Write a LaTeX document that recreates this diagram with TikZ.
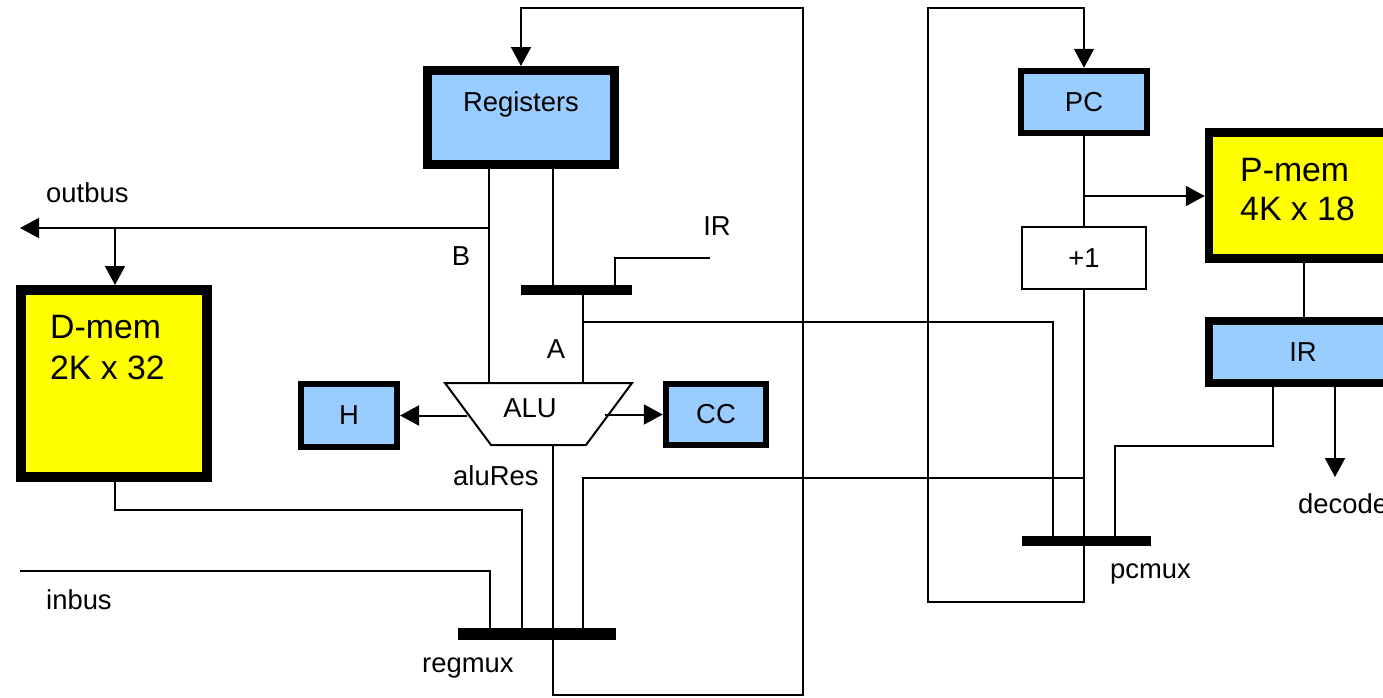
\documentclass[tikz,border=0pt]{standalone}
\usepackage{fontspec}
\setmainfont{Liberation Sans}
\usetikzlibrary{arrows.meta}
\definecolor{regblue}{HTML}{99CCFF}
\definecolor{memyellow}{HTML}{FFFF00}

\begin{document}
\begin{tikzpicture}[x=1pt,y=-1pt,
  every node/.style={font=\fontsize{27.4}{32}\selectfont},
  wire/.style={line width=2pt},
  arrowwire/.style={wire,-{Triangle[length=19pt,width=20pt]}},
  regbox/.style={draw,fill=regblue,inner sep=0pt},
  membox/.style={draw,fill=memyellow,inner sep=0pt},
  incbox/.style={draw,fill=white,line width=2pt,inner sep=0pt},
  bigtxt/.style={font=\fontsize{33.8}{40}\selectfont,inner sep=0pt,anchor=base west},
  txt/.style={inner sep=0pt},
  muxbar/.style={fill=black,inner sep=0pt,outer sep=0pt,minimum height=10pt},
]
\useasboundingbox (0,0) rectangle (1383,697);

% ---- storage blocks ----
\node[regbox, line width=9pt, minimum width=187pt, minimum height=94pt] (reg) at (521,117.5) {};
\node[txt, anchor=base] (regname) at (521,111) {Registers};

\node[membox, line width=10pt, minimum width=186pt, minimum height=187pt] (dmem) at (114,383.5) {};
\node[bigtxt] (dmemname) at (50,338) {D-mem};
\node[bigtxt] (dmemsize) at (50,379) {2K x 32};

\node[membox, line width=8.5pt, minimum width=188pt, minimum height=126pt] (pmem) at (1303,195.5) {};
\node[bigtxt] (pmemname) at (1240,181) {P-mem};
\node[bigtxt] (pmemsize) at (1240,220) {4K x 18};

\node[regbox, line width=8pt, minimum width=188pt, minimum height=62pt] (ir) at (1303,352) {IR};
\node[regbox, line width=6.5pt, minimum width=126pt, minimum height=62pt] (pc) at (1084,102) {PC};
\node[incbox, minimum width=124pt, minimum height=62pt] (inc) at (1084,258) {+1};
\node[regbox, line width=6pt, minimum width=96pt, minimum height=63pt] (hreg) at (349,415.5) {H};
\node[regbox, line width=6.5pt, minimum width=100pt, minimum height=61pt] (cc) at (716,414.5) {CC};

% ---- multiplexers ----
\node[muxbar, minimum width=111pt] (amux) at (576.5,290) {};
\node[muxbar, minimum width=158pt, minimum height=12pt] (regmux) at (537,634) {};
\node[muxbar, minimum width=129pt] (pcmux) at (1086.5,541) {};

% ---- ALU ----
\node[inner sep=0pt, outer sep=0pt, minimum width=187pt, minimum height=62pt] (alu) at (538.5,414) {};
\draw[wire] (alu.north west) -- (alu.north east) -- ([xshift=-46pt]alu.south east)
  -- ([xshift=46pt]alu.south west) -- cycle;
\node[txt, anchor=base] (aluname) at (530,417) {ALU};

% ---- register file paths ----
\draw[arrowwire] (regmux.south -| 553,0) -- (553,695) -- (803,695) -- (803,8) -- (521,8) -- (reg.north);
\draw[wire] (reg.south -| 489,0) -- (alu.north -| 489,0);
\draw[wire] (reg.south -| 553,0) -- (amux.north -| 553,0);
\draw[wire] (amux.north -| 615,0) -- (615,258) -- (710,258);
\node[txt, anchor=base] (irsel) at (717,235) {IR};
\draw[wire] (amux.south -| 583,0) -- (alu.north -| 583,0);
\draw[wire] (583,322) -- (1053,322) -- (pcmux.north -| 1053,0);
\node[txt, anchor=base] (alabel) at (556,358) {A};
\node[txt, anchor=base] (blabel) at (461,265) {B};

% ---- data memory and buses ----
\draw[arrowwire] (489,228) -- (20,228);
\node[txt, anchor=base west] (outbus) at (46,202) {outbus};
\draw[arrowwire] (115,228) -- (dmem.north -| 115,0);
\draw[wire] (dmem.south -| 115,0) -- (115,510) -- (522,510) -- (regmux.north -| 522,0);
\draw[wire] (20,571) -- (490,571) -- (regmux.north -| 490,0);
\node[txt, anchor=base west] (inbus) at (46,609) {inbus};
\draw[wire] (alu.south -| 553,0) -- (regmux.north -| 553,0);
\node[txt, anchor=base west] (alures) at (453,485) {aluRes};
\draw[wire] (1084,478) -- (583,478) -- (regmux.north -| 583,0);
\node[txt, anchor=base west] (regmuxname) at (422,672) {regmux};
\draw[arrowwire] (467,415.5) -- (hreg.east);
\draw[arrowwire] (605,414.5) -- (cc.west);

% ---- program counter paths ----
\draw[arrowwire] (pcmux.south -| 1084,0) -- (1084,602) -- (928,602) -- (928,8) -- (1084,8) -- (pc.north);
\draw[wire] (pc.south) -- (inc.north);
\draw[arrowwire] (1084,196) -- (pmem.west |- 0,196);
\draw[wire] (inc.south) -- (pcmux.north -| 1084,0);
\draw[wire] (pmem.south -| 1304,0) -- (ir.north -| 1304,0);
\draw[wire] (ir.south -| 1273,0) -- (1273,446) -- (1115,446) -- (pcmux.north -| 1115,0);
\draw[arrowwire] (ir.south -| 1335,0) -- (1335,477);
\node[txt, anchor=base west] (decode) at (1298,513) {decode};
\node[txt, anchor=base west] (pcmuxname) at (1110,578) {pcmux};
\end{tikzpicture}
\end{document}
